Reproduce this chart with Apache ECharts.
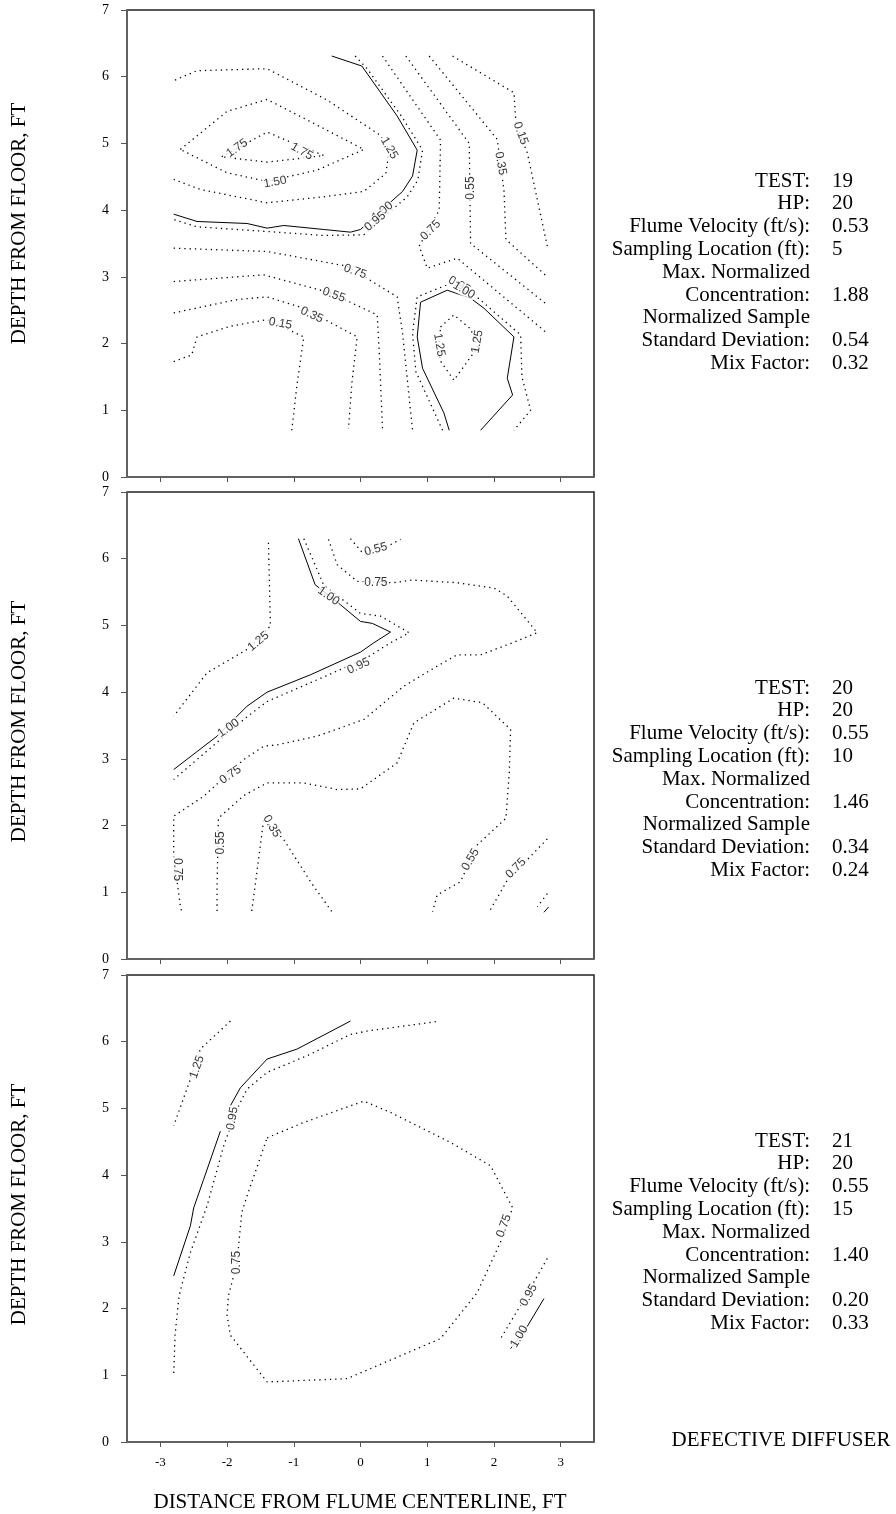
<!DOCTYPE html>
<html>
<head>
<meta charset="utf-8">
<title>Contour plots - defective diffuser</title>
<script src="https://cdn.jsdelivr.net/npm/echarts@6/dist/echarts.min.js"></script>
<style>
  html, body { margin: 0; padding: 0; background: #fff; }
  #chart { width: 896px; height: 1514px; }
</style>
</head>
<body>
<div id="chart"></div>
<script>
  // axis ticks
  const xTicks = [-3, -2, -1, 0, 1, 2, 3]
  const yTicks = [0, 1, 2, 3, 4, 5, 6, 7]

  // ---- TEST 19 contours, [x, y] in ft ----
  const t19_c175 = [[-2.08,4.80],[-1.75,4.98],[-1.40,5.17],[-0.98,4.99],[-0.55,4.82],[-0.95,4.77],[-1.40,4.72],[-1.75,4.76],[-2.08,4.80]]
  const t19_c150 = [[-2.70,4.91],[-2.00,5.48],[-1.40,5.66],[-0.70,5.30],[0.05,4.91],[-0.65,4.60],[-1.40,4.43],[-2.00,4.56],[-2.70,4.91]]
  const t19_c125 = [[-2.78,5.95],[-2.45,6.09],[-1.40,6.12],[-0.50,5.65],[0.30,5.12],[0.43,4.90],[0.38,4.55],[0.05,4.28],[-0.55,4.20],[-1.40,4.11],[-2.40,4.31],[-2.80,4.46]]
  const t19_c100a = [[-0.43,6.31],[0.02,6.16],[0.55,5.41],[0.85,4.90],[0.78,4.51],[0.63,4.28],[0.35,4.03],[0.00,3.71],[-0.15,3.67],[-0.55,3.71],[-1.15,3.77],[-1.40,3.73],[-1.70,3.80],[-2.45,3.83],[-2.80,3.94]]
  const t19_c095a = [[-0.08,6.31],[0.10,6.12],[0.62,5.40],[0.93,4.90],[0.86,4.45],[0.70,4.20],[0.35,3.90],[0.05,3.63],[-0.55,3.62],[-1.40,3.68],[-2.45,3.75],[-2.80,3.86]]
  const t19_c075a = [[0.33,6.31],[0.75,5.70],[1.20,5.05],[1.18,4.00],[0.88,3.46],[1.00,3.13],[1.45,3.28],[2.78,2.17]]
  const t19_c055a = [[0.68,6.31],[1.63,5.00],[1.65,3.50],[2.80,2.58]]
  const t19_c035a = [[1.03,6.31],[2.05,5.06],[2.15,4.30],[2.18,3.56],[2.80,3.00]]
  const t19_c015a = [[1.38,6.31],[2.30,5.76],[2.33,5.30],[2.50,4.86],[2.80,3.46]]
  const t19_c075b = [[-2.80,3.43],[-1.40,3.38],[-0.20,3.16],[0.55,2.70],[0.63,2.16],[0.78,0.70]]
  const t19_c055b = [[-2.80,2.93],[-1.45,3.03],[-0.45,2.76],[0.25,2.43],[0.28,1.90],[0.33,0.72]]
  const t19_c035b = [[-2.80,2.46],[-1.85,2.66],[-1.40,2.70],[-0.85,2.53],[-0.05,2.10],[-0.13,1.40],[-0.18,0.72]]
  const t19_c015b = [[-2.80,1.73],[-2.53,1.83],[-2.45,2.10],[-1.95,2.26],[-1.40,2.36],[-0.85,2.10],[-0.95,1.40],[-1.03,0.70]]
  const t19_c100b = [[1.33,0.70],[1.25,0.96],[0.93,1.63],[0.85,2.10],[0.90,2.62],[1.30,2.80],[1.65,2.68],[1.85,2.53],[2.30,2.10],[2.20,1.48],[2.28,1.23],[1.80,0.70]]
  const t19_c095b = [[1.23,0.70],[0.83,1.58],[0.78,2.15],[0.85,2.70],[1.35,2.90],[1.65,2.78],[2.40,2.13],[2.42,1.50],[2.55,1.00],[2.30,0.70]]
  const t19_c125b = [[1.20,2.25],[1.40,2.43],[1.65,2.22],[1.76,1.95],[1.40,1.45],[1.19,1.75],[1.18,2.00],[1.20,2.25]]
  // [text, x, y, angle]
  const t19_labels = [['1.75',-1.85,4.93,35],['1.75',-0.88,4.88,-30],['1.50',-1.28,4.42,10],['1.25',0.43,4.93,-60],
    ['1.00',0.33,3.98,40],['0.95',0.22,3.83,40],['0.75',1.05,3.70,45],['0.55',1.65,4.33,90],['0.35',2.10,4.70,-80],
    ['0.15',2.40,5.15,-70],['0.75',-0.08,3.08,-20],['0.55',-0.40,2.73,-20],['0.35',-0.73,2.43,-25],['0.15',-1.20,2.30,-10],
    ['0.95',1.48,2.88,-30],['1.00',1.55,2.80,-30],['1.25',1.18,1.98,-80],['1.25',1.75,2.03,80]]

  // ---- TEST 20 ----
  const t20_c125 = [[-1.38,6.24],[-1.35,4.99],[-1.70,4.64],[-2.30,4.29],[-2.80,3.64]]
  const t20_c100a = [[-0.93,6.30],[-0.68,5.61],[-0.30,5.31],[0.00,5.06],[0.18,5.03],[0.45,4.90],[0.20,4.74],[0.00,4.60],[-0.75,4.26],[-1.40,4.00],[-1.70,3.79],[-2.15,3.34],[-2.80,2.84]]
  const t20_c095a = [[-0.85,6.30],[-0.72,6.00],[-0.55,5.60],[0.00,5.18],[0.30,5.14],[0.73,4.89],[0.45,4.74],[0.10,4.52],[-0.50,4.25],[-1.40,3.86],[-1.75,3.59],[-2.80,2.69]]
  const t20_c075a = [[-0.48,6.29],[-0.35,5.91],[-0.05,5.66],[0.48,5.64],[0.78,5.68],[1.45,5.64],[2.00,5.56],[2.20,5.44],[2.65,4.89],[2.28,4.74],[1.80,4.56],[1.45,4.56],[1.15,4.39],[0.65,4.09],[0.05,3.59],[-0.65,3.34],[-1.25,3.21],[-1.45,3.19],[-1.75,2.99],[-2.35,2.44],[-2.80,2.14],[-2.80,1.54],[-2.70,0.79],[-2.68,0.71]]
  const t20_c055a = [[-0.15,6.30],[0.03,6.09],[0.45,6.21],[0.60,6.29]]
  const t20_c055b = [[-2.15,0.72],[-2.15,1.09],[-2.13,2.11],[-1.75,2.45],[-1.40,2.64],[-0.85,2.64],[-0.35,2.54],[0.00,2.55],[0.55,2.94],[0.80,3.54],[1.40,3.91],[1.83,3.84],[2.25,3.44],[2.23,2.79],[2.18,2.11],[1.75,1.71],[1.50,1.16],[1.15,0.96],[1.08,0.71]]
  const t20_c035 = [[-1.63,0.72],[-1.58,1.09],[-1.45,2.10],[-1.15,1.79],[-0.73,1.13],[-0.43,0.71]]
  const t20_c075b = [[2.80,1.80],[2.55,1.54],[2.20,1.18],[1.93,0.71]]
  const t20_c095b = [[2.80,0.98],[2.65,0.78]]
  const t20_c100b = [[2.75,0.70],[2.82,0.78]]
  const t20_labels = [['1.25',-1.53,4.76,40],['1.00',-0.48,5.44,-35],['0.55',0.23,6.14,15],['0.75',0.23,5.64,0],
    ['0.95',-0.03,4.39,25],['1.00',-1.98,3.46,35],['0.75',-1.95,2.76,35],['0.55',-2.10,1.74,90],['0.35',-1.33,1.99,-60],
    ['0.75',-2.74,1.34,-90],['0.55',1.65,1.49,60],['0.75',2.33,1.36,45]]

  // ---- TEST 21 ----
  const t21_c125 = [[-1.95,6.31],[-2.40,5.89],[-2.55,5.44],[-2.80,4.74]]
  const t21_c100a = [[-0.15,6.31],[-0.95,5.89],[-1.40,5.74],[-1.80,5.31],[-1.95,5.04]]
  const t21_c100b = [[-2.10,4.66],[-2.35,3.94],[-2.50,3.51],[-2.55,3.24],[-2.80,2.49]]
  const t21_c095a = [[1.13,6.30],[0.10,6.16],[-0.15,6.11],[-0.80,5.79],[-1.40,5.54],[-1.70,5.29],[-1.85,4.99],[-2.05,4.44],[-2.30,3.54],[-2.55,2.84],[-2.72,2.19],[-2.78,1.60],[-2.80,1.00]]
  const t21_c075 = [[-1.40,4.56],[-0.85,4.79],[0.05,5.11],[0.45,4.94],[1.35,4.49],[1.95,4.14],[2.28,3.51],[2.10,3.00],[1.75,2.24],[1.20,1.55],[-0.20,0.95],[-1.40,0.90],[-1.95,1.60],[-2.00,1.90],[-1.98,2.19],[-1.85,2.69],[-1.78,3.44],[-1.70,3.69],[-1.40,4.56]]
  const t21_c095b = [[2.80,2.75],[2.40,2.05],[2.10,1.55]]
  const t21_c100c = [[2.75,2.15],[2.45,1.65],[2.25,1.40]]
  const t21_labels = [['1.25',-2.45,5.62,70],['0.95',-1.92,4.85,80],['0.75',-1.85,2.69,90],['0.75',2.15,3.24,70],
    ['0.95',2.52,2.20,60],['1.00',2.38,1.58,60]]

  // info block text
  const infoNames = ['TEST:', 'HP:', 'Flume Velocity (ft/s):', 'Sampling Location (ft):', 'Max. Normalized',
    'Concentration:', 'Normalized Sample', 'Standard Deviation:', 'Mix Factor:']
  const t19_info = ['19', '20', '0.53', '5', '', '1.88', '', '0.54', '0.32']
  const t20_info = ['20', '20', '0.55', '10', '', '1.46', '', '0.34', '0.24']
  const t21_info = ['21', '20', '0.55', '15', '', '1.40', '', '0.20', '0.33']

  const panels = [
    { top: 10, infoTop: 181, info: t19_info, labels: t19_labels,
      solid: [t19_c100a, t19_c100b],
      dotted: [t19_c175, t19_c150, t19_c125, t19_c095a, t19_c075a, t19_c055a, t19_c035a, t19_c015a,
        t19_c075b, t19_c055b, t19_c035b, t19_c015b, t19_c095b, t19_c125b] },
    { top: 492, infoTop: 688, info: t20_info, labels: t20_labels,
      solid: [t20_c100a, t20_c100b],
      dotted: [t20_c125, t20_c095a, t20_c075a, t20_c055a, t20_c055b, t20_c035, t20_c075b, t20_c095b] },
    { top: 975, infoTop: 1141, info: t21_info, labels: t21_labels,
      solid: [t21_c100a, t21_c100b, t21_c100c],
      dotted: [t21_c125, t21_c095a, t21_c075, t21_c095b] }
  ]

  const serif = '"Liberation Serif", "Times New Roman", serif'
  const sans = '"Liberation Sans", Arial, sans-serif'
  const plotW = 467, plotH = 467, plotLeft = 127

  let grids = [], xAxes = [], yAxes = [], series = [], graphics = []

  panels.forEach((p, i) => {
    grids.push({ left: plotLeft, top: p.top, width: plotW, height: plotH,
      show: true, borderColor: '#222', borderWidth: 1.5, backgroundColor: '#fff' })
    xAxes.push({
      gridIndex: i, type: 'value', min: -3.5, max: 3.5,
      axisLine: { show: true, onZero: false, lineStyle: { color: '#666', width: 1.5 } },
      axisTick: { show: true, customValues: xTicks, length: 5, lineStyle: { color: '#555', width: 1 } },
      axisLabel: { show: i === 2, customValues: xTicks, margin: 14, color: '#000', fontSize: 13, fontFamily: serif },
      splitLine: { show: false }
    })
    yAxes.push({
      gridIndex: i, type: 'value', min: 0, max: 7, interval: 1,
      axisLine: { show: true, onZero: false, lineStyle: { color: '#666', width: 1.5 } },
      axisTick: { show: true, length: 6, lineStyle: { color: '#555', width: 1 } },
      axisLabel: { margin: 18, color: '#000', fontSize: 14, fontFamily: serif },
      splitLine: { show: false }
    })

    p.solid.forEach(d => series.push({
      type: 'line', xAxisIndex: i, yAxisIndex: i, data: d, showSymbol: false, silent: true,
      lineStyle: { color: '#000', width: 1, type: 'solid' }, z: 3
    }))
    p.dotted.forEach(d => series.push({
      type: 'line', xAxisIndex: i, yAxisIndex: i, data: d, showSymbol: false, silent: true,
      lineStyle: { color: '#000', width: 1.3, type: [1.3, 4] }, z: 3
    }))
    // contour level labels
    series.push({
      type: 'scatter', xAxisIndex: i, yAxisIndex: i, silent: true, symbolSize: 1,
      itemStyle: { color: 'transparent' }, z: 5,
      data: p.labels.map(l => ({
        value: [l[1], l[2]],
        label: { formatter: l[0], rotate: l[3] }
      })),
      label: { show: true, position: 'inside', color: '#000', fontSize: 12, fontFamily: sans,
        backgroundColor: '#fff', padding: [0, 1] }
    })

    // y title
    graphics.push({ type: 'text', x: 19, y: p.top + plotH / 2 - (i === 0 ? 20 : 4), rotation: Math.PI / 2,
      style: { text: 'DEPTH FROM FLOOR, FT', fontSize: 21, fontFamily: serif, fill: '#000',
        align: 'center', verticalAlign: 'middle' } })

    // info block
    infoNames.forEach((name, k) => {
      graphics.push({ type: 'text', x: 810, y: p.infoTop + k * 22.8,
        style: { text: name, fontSize: 21, fontFamily: serif, fill: '#000', align: 'right', verticalAlign: 'middle' } })
      if (p.info[k] !== '') {
        graphics.push({ type: 'text', x: 832, y: p.infoTop + k * 22.8,
          style: { text: p.info[k], fontSize: 21, fontFamily: serif, fill: '#000', align: 'left', verticalAlign: 'middle' } })
      }
    })
  })

  graphics.push({ type: 'text', x: 360, y: 1502,
    style: { text: 'DISTANCE FROM FLUME CENTERLINE, FT', fontSize: 21, fontFamily: serif, fill: '#000',
      align: 'center', verticalAlign: 'middle' } })
  graphics.push({ type: 'text', x: 781, y: 1440,
    style: { text: 'DEFECTIVE DIFFUSER', fontSize: 21, fontFamily: serif, fill: '#000',
      align: 'center', verticalAlign: 'middle' } })

  let chart = echarts.init(document.getElementById('chart'), null, { renderer: 'canvas' })
  chart.setOption({
    animation: false,
    backgroundColor: '#fff',
    grid: grids,
    xAxis: xAxes,
    yAxis: yAxes,
    series: series,
    graphic: graphics
  })
</script>
</body>
</html>
